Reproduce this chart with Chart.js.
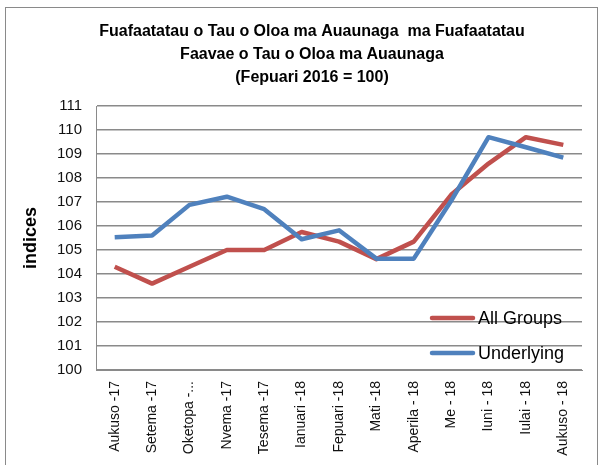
<!DOCTYPE html>
<html>
<head>
<meta charset="utf-8">
<script src="https://cdn.jsdelivr.net/npm/chart.js@4/dist/chart.umd.min.js"></script>
<style>
html,body{margin:0;padding:0;background:#fff;}
canvas{display:block;}
</style>
</head>
<body>
<canvas id="c" width="601" height="465"></canvas>
<script>
const titleLines = ["Fuafaatatau o Tau o Oloa ma Auaunaga  ma Fuafaatatau", "Faavae o Tau o Oloa ma Auaunaga", "(Fepuari 2016 = 100)"];
const categories = ["Aukuso -17", "Setema -17", "Oketopa -...", "Nvema -17", "Tesema -17", "Ianuari -18", "Fepuari -18", "Mati -18", "Aperila - 18", "Me - 18", "Iuni - 18", "Iulai - 18", "Aukuso - 18"];
const allGroups = [104.3, 103.6, 104.3, 105.0, 105.0, 105.75, 105.35, 104.62, 105.35, 107.3, 108.6, 109.7, 109.38];
const underlying = [105.53, 105.6, 106.88, 107.22, 106.7, 105.45, 105.82, 104.64, 104.64, 107.05, 109.7, 109.28, 108.85];
const seriesNames = ["All Groups", "Underlying"];
const yTitle = "indices";
const yMin = 100, yMax = 111;

const FONT = "'Liberation Sans', Arial, sans-serif";
const RED = "#C0504D", BLUE = "#4F81BD";

const decor = {
  id: 'decor',
  beforeDraw(chart) {
    const ctx = chart.ctx;
    ctx.save();
    ctx.fillStyle = '#fff';
    ctx.fillRect(0, 0, chart.width, chart.height);
    ctx.strokeStyle = '#8a8a8a';
    ctx.lineWidth = 1;
    ctx.strokeRect(5.5, 7.5, 592, 470);
    ctx.restore();
  },
  afterDraw(chart) {
    const ctx = chart.ctx;
    ctx.save();
    ctx.fillStyle = '#000';
    ctx.textAlign = 'center';
    ctx.textBaseline = 'middle';
    ctx.font = "bold 16px " + FONT;
    titleLines.forEach((t, i) => ctx.fillText(t, 312, 32 + i * 23));
    // legend
    const cols = [RED, BLUE];
    const ys = [318, 353];
    ctx.lineCap = 'round';
    ctx.lineWidth = 4.5;
    ctx.font = "18px " + FONT;
    ctx.textAlign = 'left';
    seriesNames.forEach((n, i) => {
      ctx.strokeStyle = cols[i];
      ctx.beginPath();
      ctx.moveTo(432, ys[i]);
      ctx.lineTo(473, ys[i]);
      ctx.stroke();
      ctx.fillStyle = '#000';
      ctx.fillText(n, 478, ys[i] + 1);
    });
    ctx.restore();
  }
};

new Chart(document.getElementById('c'), {
  type: 'line',
  data: {
    labels: categories,
    datasets: [
      { label: seriesNames[0], data: allGroups, borderColor: RED, backgroundColor: RED, borderWidth: 4.5, pointRadius: 0, tension: 0, order: 1, borderJoinStyle: 'round' },
      { label: seriesNames[1], data: underlying, borderColor: BLUE, backgroundColor: BLUE, borderWidth: 4.5, pointRadius: 0, tension: 0, order: 0, borderJoinStyle: 'round' }
    ]
  },
  options: {
    responsive: false,
    animation: false,
    events: [],
    layout: { padding: { left: 20, right: 19, top: 106, bottom: 0 } },
    plugins: { legend: { display: false }, title: { display: false }, tooltip: { enabled: false } },
    scales: {
      x: {
        offset: true,
        grid: { display: false },
        border: { display: true, color: '#8a8a8a', width: 1 },
        ticks: { color: '#111', font: { family: FONT, size: 14 }, minRotation: 90, maxRotation: 90, autoSkip: false, padding: 3 },
        afterFit(s) { s.height = 95; }
      },
      y: {
        min: yMin, max: yMax,
        ticks: { stepSize: 1, color: '#111', font: { family: FONT, size: 15 }, padding: 14 },
        grid: { color: '#8a8a8a', lineWidth: 1.5, drawTicks: false },
        border: { display: true, color: '#8a8a8a', width: 1 },
        title: { display: true, text: yTitle, color: '#000', font: { family: FONT, size: 18, weight: 'bold' }, padding: 0 },
        afterFit(s) { s.width = 76; }
      }
    }
  },
  plugins: [decor]
});
</script>
</body>
</html>
